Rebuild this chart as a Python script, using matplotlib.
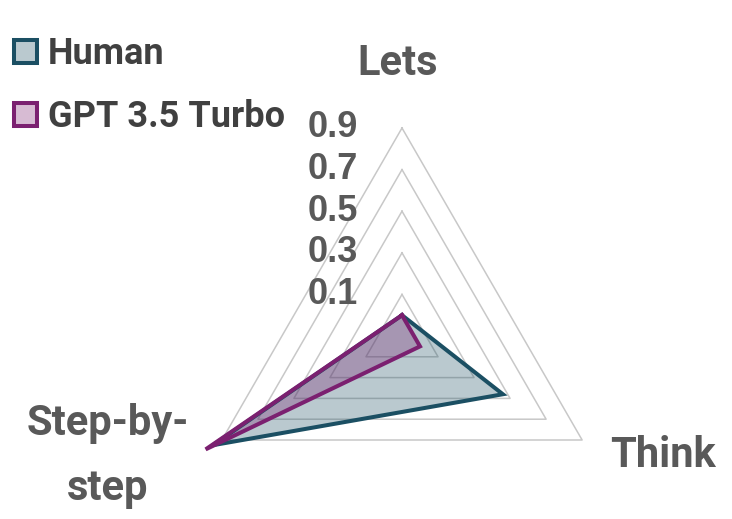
import numpy as np
import matplotlib
matplotlib.use("Agg")
import matplotlib.pyplot as plt
from matplotlib.patches import Patch


# ==========================
# Data
# ==========================

categories = ["Lets", "Think", "Step-by-step"]

human = [0.0, 0.46, 0.95]

gpt = [0.0, 0.0, 0.99]

series_names = ["Human", "GPT 3.5 Turbo"]

grid_values = [0.1, 0.3, 0.5, 0.7, 0.9]

tick_labels = ["0.1", "0.3", "0.5", "0.7", "0.9"]

r_min = -0.1
r_max = 0.9


# ==========================
# Style
# ==========================

HUMAN_COLOR = "#1B4F63"
GPT_COLOR = "#7B2070"
GRID_COLOR = "#C8C8C8"
LABEL_COLOR = "#595959"
LEGEND_COLOR = "#404040"

CAT_FONT = ["Roboto", "DejaVu Sans"]
TICK_FONT = ["Liberation Sans", "DejaVu Sans"]


# angles: Lets on top, then clockwise
angles = np.deg2rad([90, -30, 210])


def to_xy(values):
    r = (np.asarray(values) - r_min) / (r_max - r_min)
    x = r * np.cos(angles)
    y = r * np.sin(angles)
    return np.append(x, x[0]), np.append(y, y[0])


# ==========================
# Figure
# ==========================

W, H = 732, 519
cx, cy, R = 402, 336, 208   # centre and outer radius in pixels

fig = plt.figure(figsize=(W / 100, H / 100), dpi=100)
ax = fig.add_axes([0, 0, 1, 1])
ax.set_xlim(-cx / R, (W - cx) / R)
ax.set_ylim(-(H - cy) / R, cy / R)
ax.axis("off")


# gridlines
for v in grid_values:
    gx, gy = to_xy([v] * 3)
    ax.plot(gx, gy, color=GRID_COLOR, lw=1.1, zorder=1)


# series
for vals, color in [(human, HUMAN_COLOR), (gpt, GPT_COLOR)]:
    sx, sy = to_xy(vals)
    ax.fill(sx, sy, color=color, alpha=0.3, lw=0, zorder=2)
    ax.plot(sx, sy, color=color, lw=2.9, solid_joinstyle="miter",
            clip_on=False, zorder=3)


# radial tick labels
for v, lab in zip(grid_values, tick_labels):
    ty = (v - r_min) / (r_max - r_min)
    ax.text(-0.21, ty, lab, ha="right", va="center",
            fontsize=26, fontweight="bold", color=LABEL_COLOR,
            family=TICK_FONT)


# category labels
ax.text(-0.02, 1.255, "Lets", ha="center", va="baseline",
        fontsize=30, fontweight="bold", color=LABEL_COLOR, family=CAT_FONT)

ax.text(1.255, -0.63, "Think", ha="center", va="baseline",
        fontsize=30, fontweight="bold", color=LABEL_COLOR, family=CAT_FONT)

ax.text(-1.413, -0.476, "Step-by-", ha="center", va="baseline",
        fontsize=30, fontweight="bold", color=LABEL_COLOR, family=CAT_FONT)

ax.text(-1.413, -0.788, "step", ha="center", va="baseline",
        fontsize=30, fontweight="bold", color=LABEL_COLOR, family=CAT_FONT)


# ==========================
# Legend
# ==========================

handles = [
    Patch(facecolor=HUMAN_COLOR + "4D", edgecolor=HUMAN_COLOR, lw=2.9),
    Patch(facecolor=GPT_COLOR + "4D", edgecolor=GPT_COLOR, lw=2.9),
]

leg = ax.legend(
    handles, series_names,
    loc="upper left",
    bbox_to_anchor=(0.0, 0.958),
    bbox_transform=fig.transFigure,
    frameon=False,
    handlelength=0.62,
    handleheight=0.62,
    handletextpad=0.3,
    labelspacing=0.75,
    borderaxespad=0.0,
    prop={"family": CAT_FONT, "weight": "bold", "size": 26},
)

for t in leg.get_texts():
    t.set_color(LEGEND_COLOR)


fig.savefig("out.png", dpi=100)
